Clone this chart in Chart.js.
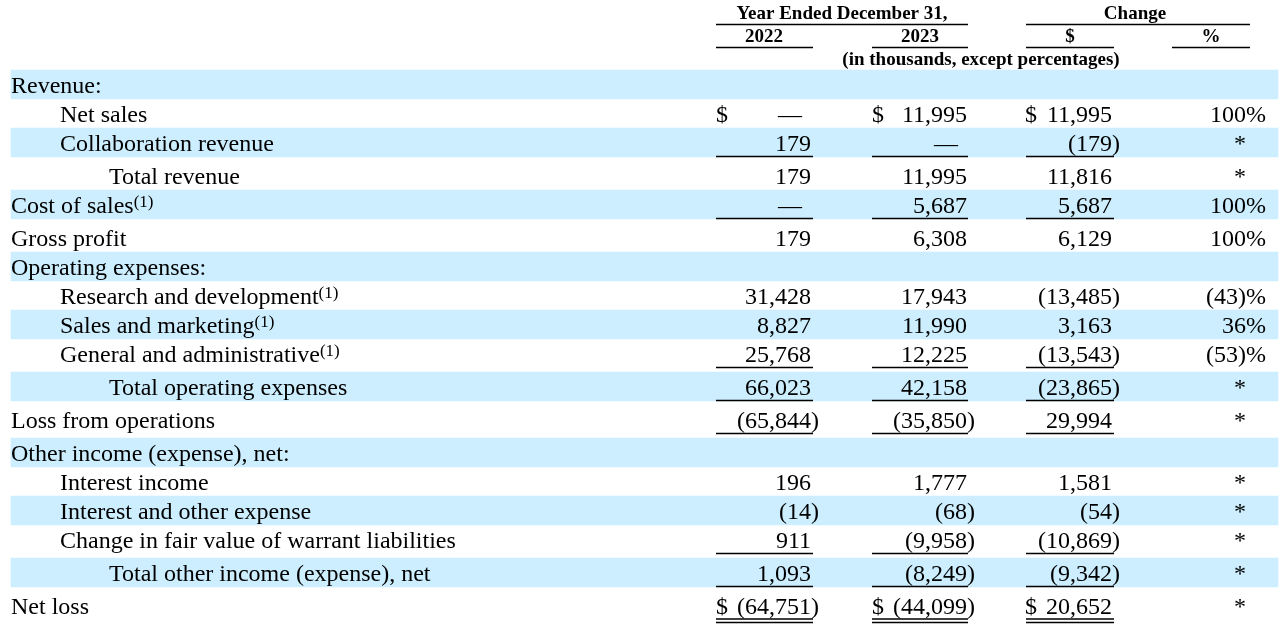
<!DOCTYPE html>
<html>
<head>
<meta charset="utf-8">
<script src="https://cdn.jsdelivr.net/npm/chart.js@4.4.0/dist/chart.umd.min.js"></script>
<style>
html, body { margin: 0; padding: 0; background: #fff; }
#wrap { width: 1285px; height: 632px; position: relative; }
</style>
</head>
<body>
<div id="wrap"><canvas id="incomeTable"></canvas></div>
<script>
// Results of operations, year ended December 31 (in thousands, except percentages)
const rowLabels = ['Revenue:', 'Net sales', 'Collaboration revenue', 'Total revenue', 'Cost of sales',
    'Gross profit', 'Operating expenses:', 'Research and development', 'Sales and marketing',
    'General and administrative', 'Total operating expenses', 'Loss from operations',
    'Other income (expense), net:', 'Interest income', 'Interest and other expense',
    'Change in fair value of warrant liabilities', 'Total other income (expense), net', 'Net loss'];
const rowIndent   = [0, 1, 1, 2, 0, 0, 0, 1, 1, 1, 2, 0, 0, 1, 1, 1, 2, 0];
const rowFootnote = [0, 0, 0, 0, 1, 0, 0, 1, 1, 1, 0, 0, 0, 0, 0, 0, 0, 0];
const sectionRows = [1, 0, 0, 0, 0, 0, 1, 0, 0, 0, 0, 0, 1, 0, 0, 0, 0, 0];
const dollarRows  = [0, 1, 0, 0, 0, 0, 0, 0, 0, 0, 0, 0, 0, 0, 0, 0, 0, 1];
// 0 = no rule, 1 = single rule, 2 = double rule under the row
const ruleRows    = [0, 0, 1, 0, 1, 0, 0, 0, 0, 1, 1, 1, 0, 0, 0, 1, 1, 2];

// null = dash ("—")
const values2022   = [0, null, 179, 179, null, 179, 0, 31428, 8827, 25768, 66023, -65844, 0, 196, -14, 911, 1093, -64751];
const values2023   = [0, 11995, null, 11995, 5687, 6308, 0, 17943, 11990, 12225, 42158, -35850, 0, 1777, -68, -9958, -8249, -44099];
const changeDollar = [0, 11995, -179, 11816, 5687, 6129, 0, -13485, 3163, -13543, -23865, 29994, 0, 1581, -54, -10869, -9342, 20652];
// null = not meaningful ("*")
const changePct    = [0, 100, null, null, 100, 100, 0, -43, 36, -53, null, null, 0, null, null, null, null, null];

const headerTop = 'Year Ended December 31,';
const headerChange = 'Change';
const columnTitles = ['2022', '2023', '$', '%'];
const headerUnits = '(in thousands, except percentages)';
const footnoteMark = '(1)';

const BODY_FONT = '24px "Liberation Serif", "Times New Roman", serif';
const SUP_FONT = '17px "Liberation Serif", "Times New Roman", serif';
const HEAD_FONT = 'bold 19px "Liberation Serif", "Times New Roman", serif';
const BAND = '#CCEEFF';

// row centres: 29px rows, a little extra room under ruled rows
const rowCenters = [];
(function () {
    let top = 70;
    rowLabels.forEach((l, i) => {
        rowCenters.push(top + 14.5);
        top += 29 + (ruleRows[i] ? 4 : 0);
    });
})();

// numeric columns: right edge of figures, $ position, rule span
const columns = [
    { values: values2022, right: 811, dollar: 716, rule: [716, 813] },
    { values: values2023, right: 967, dollar: 872, rule: [872, 968] },
    { values: changeDollar, right: 1112, dollar: 1025, rule: [1026, 1114] }
];

function fmt(n) {
    return Math.abs(n).toLocaleString('en-US');
}

const bands = rowLabels.map((l, i) => i % 2 === 0 ? { x: [11, 1278], y: rowCenters[i] } : null)
    .filter(d => d);

const tablePlugin = {
    id: 'tableText',
    afterDatasetsDraw(chart) {
        const ctx = chart.ctx;
        const xs = chart.scales.x, ys = chart.scales.y;
        const px = v => xs.getPixelForValue(v);
        const py = v => ys.getPixelForValue(v);
        ctx.save();
        ctx.fillStyle = '#000';
        ctx.strokeStyle = '#000';
        ctx.textBaseline = 'alphabetic';

        // header
        ctx.font = HEAD_FONT;
        ctx.textAlign = 'center';
        ctx.fillText(headerTop, px(842), py(19));
        ctx.fillText(headerChange, px(1135), py(19));
        ctx.fillText(columnTitles[0], px(764), py(42));
        ctx.fillText(columnTitles[1], px(920), py(42));
        ctx.fillText(columnTitles[2], px(1070), py(42));
        ctx.fillText(columnTitles[3], px(1211), py(42));
        ctx.fillText(headerUnits, px(981), py(65));
        ctx.lineWidth = 1.5;
        [[716, 968, 24.5], [1026, 1250, 24.5], [716, 813, 47.5], [872, 968, 47.5],
         [1026, 1114, 47.5], [1172, 1250, 47.5]].forEach(([a, b, y]) => {
            ctx.beginPath();
            ctx.moveTo(px(a), py(y));
            ctx.lineTo(px(b), py(y));
            ctx.stroke();
        });

        // body
        rowLabels.forEach((label, i) => {
            const base = py(rowCenters[i] + 8);
            ctx.font = BODY_FONT;
            ctx.textAlign = 'left';
            const lx = px(11 + rowIndent[i] * 49);
            ctx.fillText(label, lx, base);
            if (rowFootnote[i]) {
                const w = ctx.measureText(label).width;
                ctx.font = SUP_FONT;
                ctx.fillText(footnoteMark, lx + w, base - 5.5);
                ctx.font = BODY_FONT;
            }
            if (sectionRows[i]) return;

            columns.forEach(col => {
                const v = col.values[i];
                if (dollarRows[i]) {
                    ctx.textAlign = 'left';
                    ctx.fillText('$', px(col.dollar), base);
                }
                ctx.textAlign = 'right';
                if (v === null) {
                    ctx.fillText('\u2014', px(col.right - 9), base);
                } else if (v < 0) {
                    ctx.fillText('(' + fmt(v), px(col.right), base);
                    ctx.textAlign = 'left';
                    ctx.fillText(')', px(col.right), base);
                } else {
                    ctx.fillText(fmt(v), px(col.right), base);
                }
                if (ruleRows[i]) {
                    ctx.lineWidth = 1.4;
                    ctx.beginPath();
                    if (ruleRows[i] === 2) {
                        [13.5, 17].forEach(off => {
                            ctx.moveTo(px(col.rule[0]), py(rowCenters[i] + off));
                            ctx.lineTo(px(col.rule[1]), py(rowCenters[i] + off));
                        });
                    } else {
                        ctx.moveTo(px(col.rule[0]), py(rowCenters[i] + 14));
                        ctx.lineTo(px(col.rule[1]), py(rowCenters[i] + 14));
                    }
                    ctx.stroke();
                }
            });

            const p = changePct[i];
            ctx.textAlign = 'right';
            if (p === null) {
                ctx.textAlign = 'center';
                ctx.fillText('*', px(1240), base);
            } else if (p < 0) {
                ctx.fillText('(' + Math.abs(p) + ')%', px(1266), base);
            } else {
                ctx.fillText(p + '%', px(1266), base);
            }
        });
        ctx.restore();
    }
};

new Chart(document.getElementById('incomeTable').getContext('2d'), {
    type: 'bar',
    data: {
        datasets: [{
            label: 'row bands',
            data: bands,
            backgroundColor: BAND,
            borderWidth: 0,
            barThickness: 29
        }]
    },
    options: {
        indexAxis: 'y',
        responsive: true,
        maintainAspectRatio: false,
        animation: false,
        layout: { padding: 0 },
        scales: {
            x: { type: 'linear', min: 0, max: 1285, offset: false, display: false },
            y: { type: 'linear', min: 0, max: 632, reverse: true, offset: false, display: false }
        },
        plugins: {
            legend: { display: false },
            tooltip: { enabled: false }
        }
    },
    plugins: [tablePlugin]
});
</script>
</body>
</html>
